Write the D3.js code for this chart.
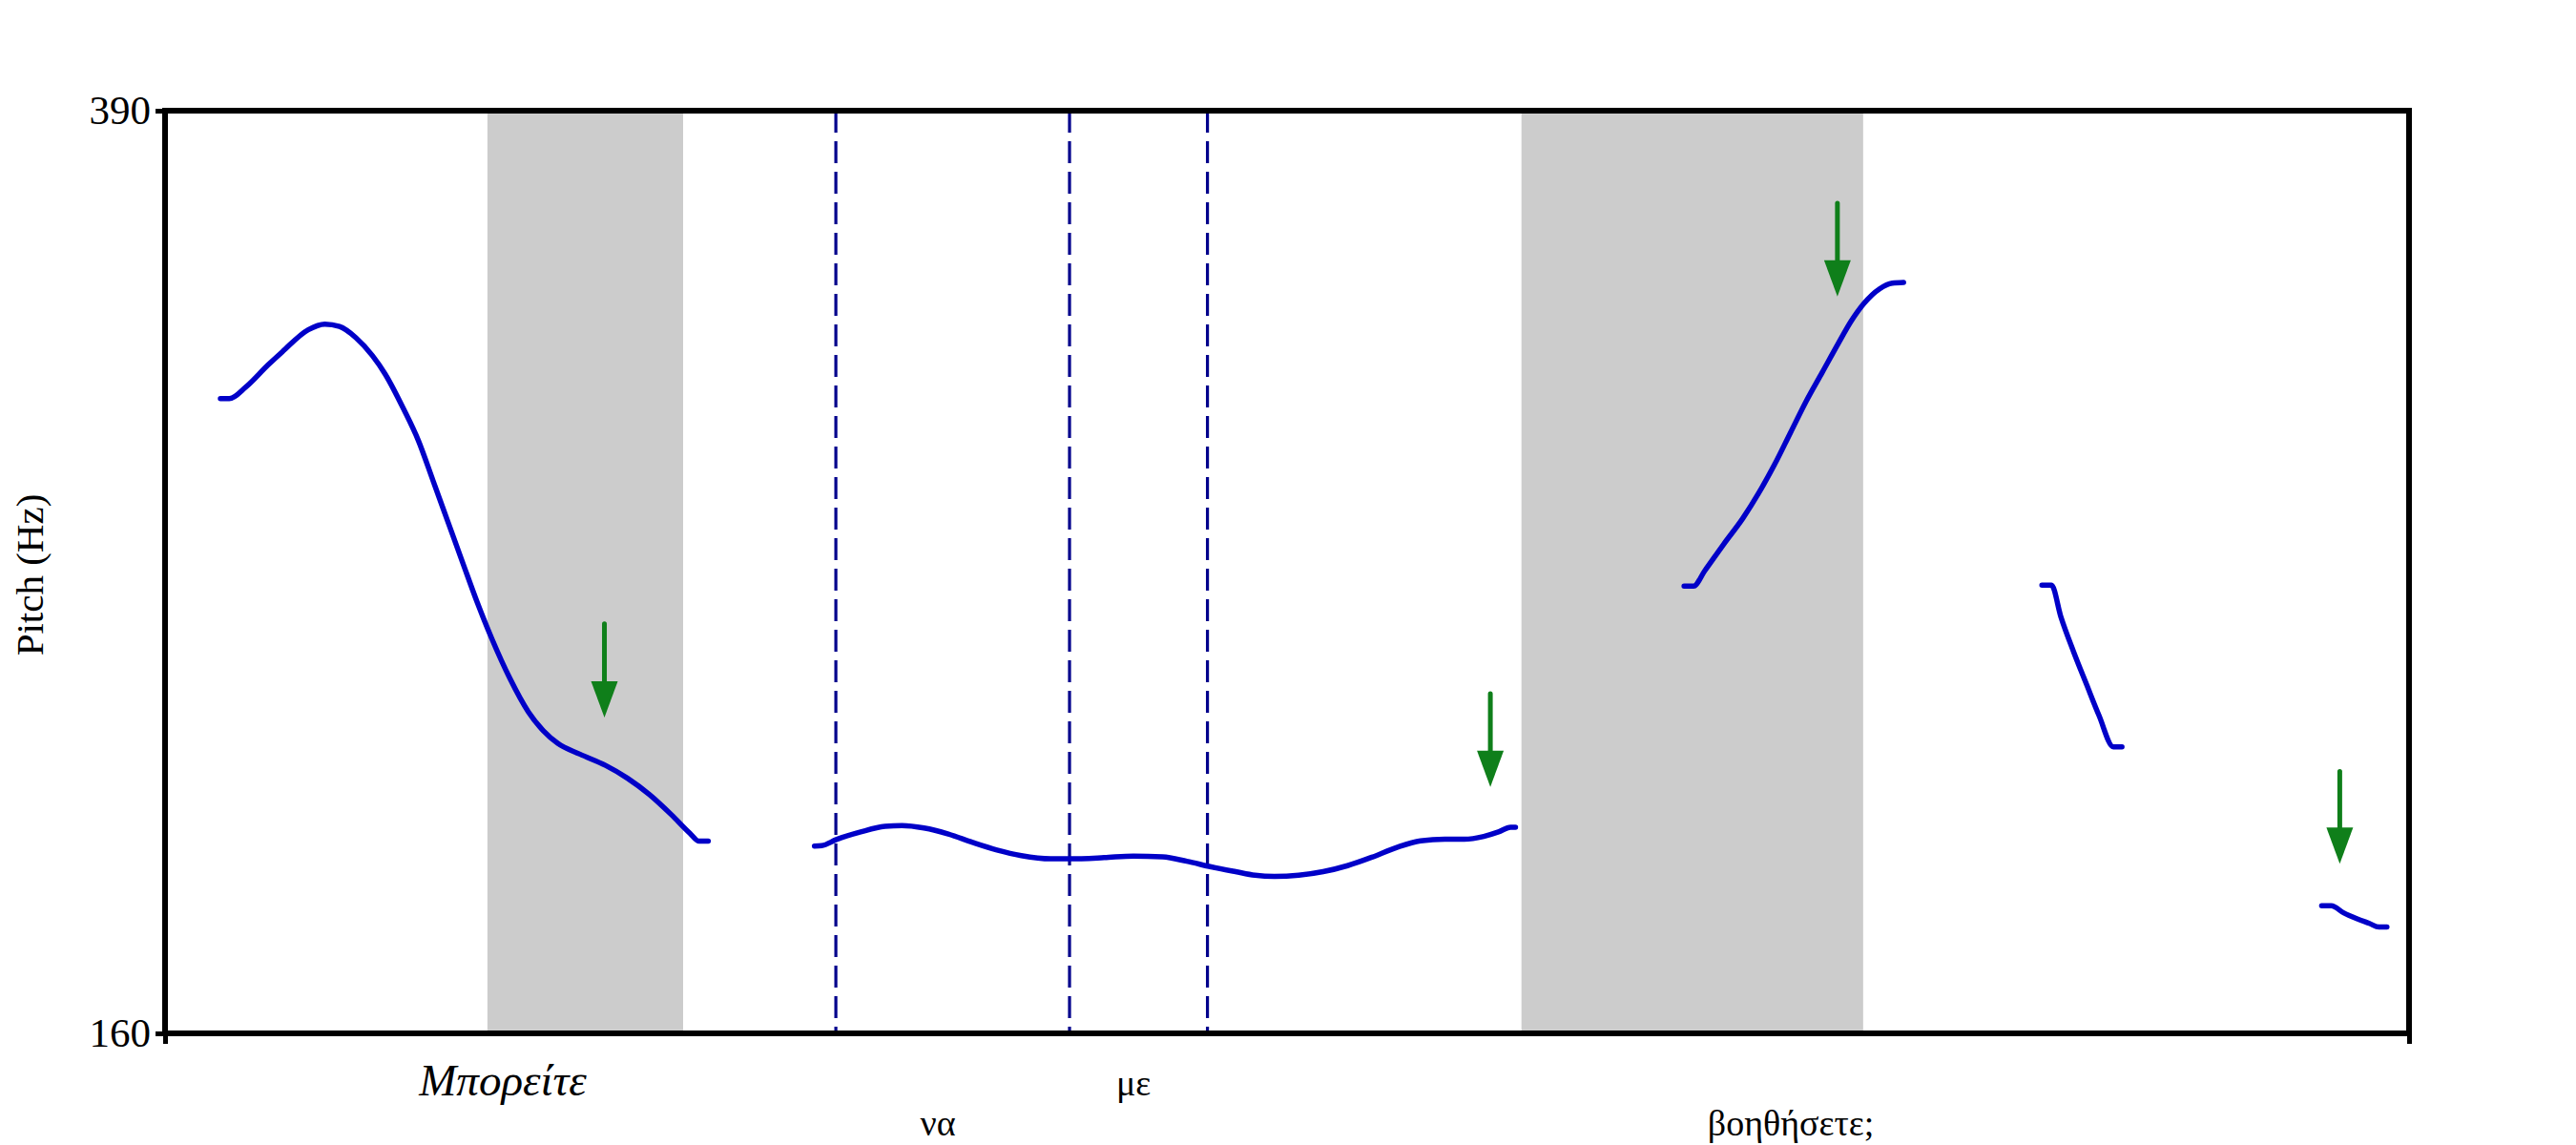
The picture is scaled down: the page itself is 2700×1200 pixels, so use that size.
<!DOCTYPE html>
<html>
<head>
<meta charset="utf-8">
<script src="https://cdn.jsdelivr.net/npm/d3@7"></script>
<style>
  html, body { margin: 0; padding: 0; background: #ffffff; }
  svg { display: block; }
</style>
</head>
<body>
<svg id="chart" width="2700" height="1200"></svg>
<script>
// ---------------- data ----------------
const timeDomain = [0, 1500];          // ms
const pitchTicks = [160, 390];         // Hz
const axisTitle = "Pitch (Hz)";

// pitch contour segments: [time (ms), pitch (Hz)]
const seg1 = [[37,318.2],[43,318.2],[54,321.1],[68.8,326.6],[78.4,329.9],[95.7,335.4],[106.8,336.8],
  [116.6,336.2],[127.6,333.4],[138.7,328.9],[147.2,324.3],[159.5,315.6],[169.3,307.8],[179.1,297.8],
  [188.9,287.7],[198.7,277.6],[208.6,267.5],[218.4,258.4],[230.6,248.4],[242.9,240.1],[252.7,235.5],
  [262.5,232.3],[277.3,229.6],[294.4,226.8],[309.1,223.6],[323.9,219.5],[338.5,214.5],[350.8,209.9],
  [357,207.9],[363.1,207.9]];
const seg2 = [[434.1,206.7],[438.9,206.8],[448.7,208.3],[465,210.2],[481.3,211.6],[492.6,211.8],
  [507.3,211.2],[523.6,209.7],[539.8,207.6],[556.1,205.7],[572.4,204.3],[591.9,203.5],[604.9,203.5],
  [627.7,203.8],[647.3,204.2],[666.8,204],[683,202.9],[699.3,201.5],[715.6,200.3],[728.6,199.4],
  [741.6,199.1],[757.8,199.4],[774.1,200.3],[790.4,201.8],[806.7,203.9],[823,206.3],[839.2,208],
  [855.5,208.4],[868.5,208.4],[881.5,209.1],[891.3,210.2],[899.4,211.4],[902.7,211.4]];
const seg3 = [[1015.4,271.5],[1021.8,271.5],[1029.2,275.3],[1042,282],[1054.7,288.4],[1065.3,294.7],
  [1075.9,301.8],[1086.6,309.8],[1097.2,317.7],[1107.8,324.8],[1118.5,332],[1127,337.5],[1135.5,341.9],
  [1146.1,345.6],[1154.6,347],[1162.1,347.2]];
const seg4 = [[1254.6,271.7],[1261,271.7],[1267.3,263.8],[1275.8,255.1],[1284.3,247.1],[1292.8,239.2],
  [1302.4,231.4],[1308.1,231.4]];
const seg5 = [[1441.6,191.8],[1448,191.8],[1456.5,190],[1465,188.6],[1473.5,187.4],[1479.9,186.5],[1485.2,186.5]];
const segments = [seg1, seg2, seg3, seg4, seg5];

// shaded (stressed) intervals, ms
const shadeStart = [215.5, 906.7];
const shadeEnd   = [346.3, 1135.1];

// word boundaries (dashed), ms
const boundaryTimes = [448.4, 604.6, 696.8];

// green arrows
const arrowTimes = [293.7, 885.9, 1117.9, 1453.7];
const arrowTopHz = [262.1, 244.7, 366.9, 225.3];
const arrowTipHz = [238.7, 221.4, 343.7, 202.3];

// words under the axis
const words      = ["Μπορείτε", "να", "με", "βοηθήσετε;"];
const wordTimes  = [225.8, 516.6, 647.4, 1086.8];
const wordRow    = [0, 1, 0, 1];
const wordItalic = [true, false, false, false];

// ---------------- layout ----------------
const plot = {left: 173, right: 2525, top: 116, bottom: 1083};
const svg = d3.select("#chart");
const x = d3.scaleLinear().domain(timeDomain).range([plot.left, plot.right]);
const y = d3.scaleLinear().domain(d3.extent(pitchTicks)).range([plot.bottom, plot.top]);
const serif = "'Liberation Serif', 'Times New Roman', serif";

// shaded intervals
svg.append("g").selectAll("rect").data(shadeStart).join("rect")
  .attr("x", (d) => x(d))
  .attr("width", (d, i) => x(shadeEnd[i]) - x(d))
  .attr("y", plot.top).attr("height", plot.bottom - plot.top)
  .attr("fill", "#cccccc");

// dashed word boundaries
svg.append("g").selectAll("line").data(boundaryTimes).join("line")
  .attr("x1", (d) => x(d)).attr("x2", (d) => x(d))
  .attr("y1", plot.top).attr("y2", plot.bottom)
  .attr("stroke", "#00008c").attr("stroke-width", 3.2)
  .attr("stroke-dasharray", "23,9");

// pitch contour
const line = d3.line().x((d) => x(d[0])).y((d) => y(d[1])).curve(d3.curveMonotoneX);
svg.append("g").selectAll("path").data(segments).join("path")
  .attr("d", line)
  .attr("fill", "none").attr("stroke", "#0000c8").attr("stroke-width", 5.5)
  .attr("stroke-linejoin", "round").attr("stroke-linecap", "round");

// arrows
const headH = 38, headW = 28;
const ag = svg.append("g");
arrowTimes.forEach((t, i) => {
  const ax = x(t), top = y(arrowTopHz[i]), tip = y(arrowTipHz[i]);
  ag.append("line").attr("x1", ax).attr("x2", ax).attr("y1", top).attr("y2", tip - headH + 2)
    .attr("stroke", "#0f7f1a").attr("stroke-width", 5).attr("stroke-linecap", "round");
  ag.append("path")
    .attr("d", `M${ax - headW / 2},${tip - headH} L${ax + headW / 2},${tip - headH} L${ax},${tip} Z`)
    .attr("fill", "#0f7f1a");
});

// frame
const frame = svg.append("g").attr("stroke", "#000").attr("stroke-width", 6).attr("fill", "none");
frame.append("rect").attr("x", plot.left).attr("y", plot.top)
  .attr("width", plot.right - plot.left).attr("height", plot.bottom - plot.top);

// y axis ticks & labels
const yAxis = d3.axisLeft(y).tickValues(pitchTicks).tickSize(10).tickPadding(5);
const yg = svg.append("g").attr("transform", `translate(${plot.left},0)`).call(yAxis);
yg.select(".domain").remove();
yg.selectAll(".tick line").attr("stroke", "#000").attr("stroke-width", 5);
yg.selectAll(".tick text").attr("font-family", serif).attr("font-size", 43).attr("fill", "#000");

// x-axis end stubs
const xAxis = d3.axisBottom(x).tickValues(timeDomain).tickSize(11).tickFormat("");
const xg = svg.append("g").attr("transform", `translate(0,${plot.bottom})`).call(xAxis);
xg.select(".domain").remove();
xg.selectAll(".tick line").attr("stroke", "#000").attr("stroke-width", 5);

// axis title
svg.append("text")
  .attr("transform", `translate(45,${(plot.top + plot.bottom) / 2 + 3}) rotate(-90)`)
  .attr("text-anchor", "middle")
  .attr("font-family", serif).attr("font-size", 41).attr("fill", "#000")
  .text(axisTitle);

// words
const rowY = [1148, 1190];
svg.append("g").selectAll("text").data(words).join("text")
  .attr("x", (d, i) => x(wordTimes[i]))
  .attr("y", (d, i) => rowY[wordRow[i]])
  .attr("text-anchor", "middle")
  .attr("font-family", serif)
  .attr("font-size", (d, i) => wordItalic[i] ? 47 : 38)
  .attr("font-style", (d, i) => wordItalic[i] ? "italic" : "normal")
  .attr("fill", "#000")
  .text((d) => d);
</script>
</body>
</html>
